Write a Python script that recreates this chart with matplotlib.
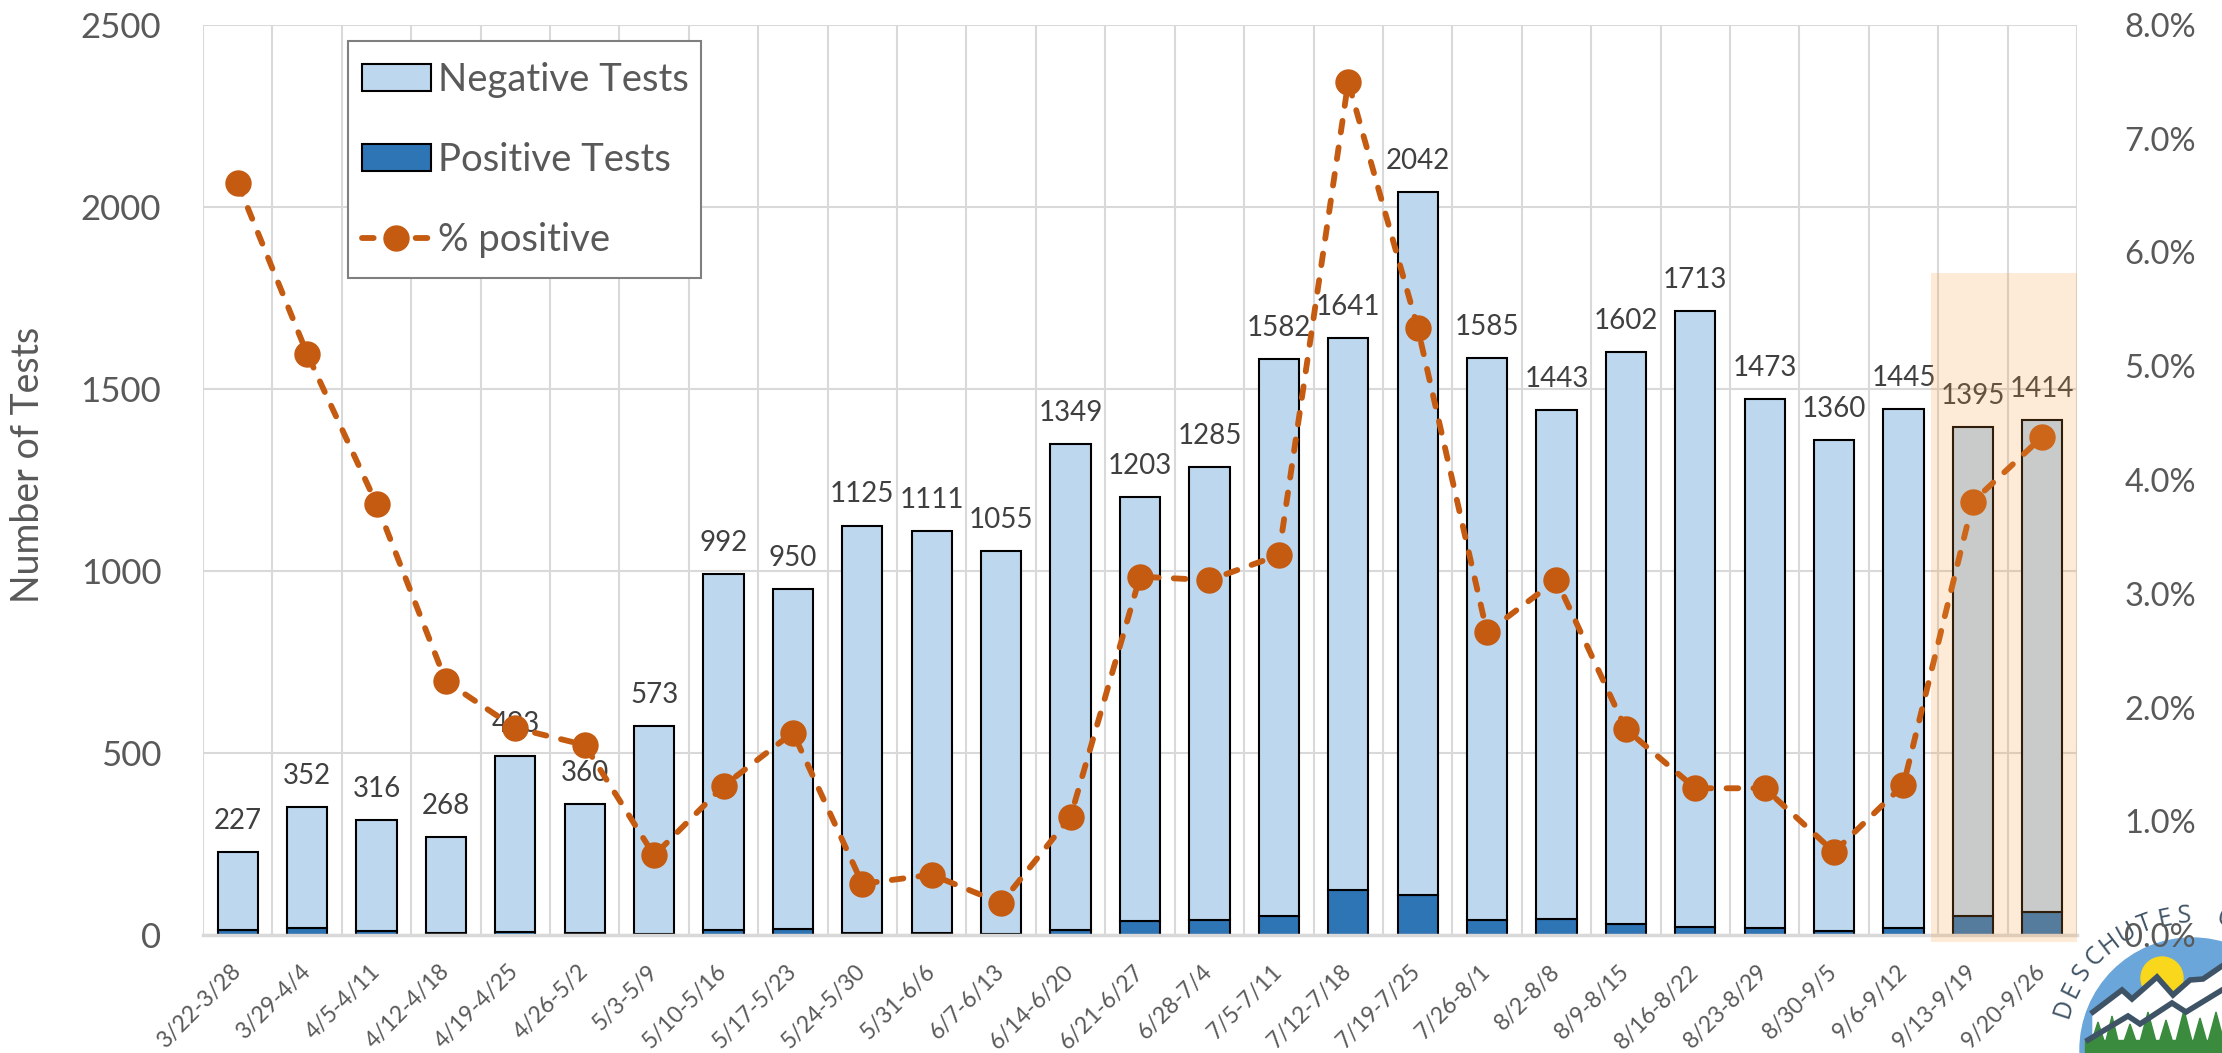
import matplotlib
matplotlib.use('Agg')
import matplotlib.pyplot as plt
import numpy as np
from matplotlib.patches import Rectangle, Patch, Circle, Polygon
from matplotlib.lines import Line2D
from matplotlib.ticker import FuncFormatter

# ---------------- data ----------------
weeks = ['3/22-3/28', '3/29-4/4', '4/5-4/11', '4/12-4/18', '4/19-4/25', '4/26-5/2',
         '5/3-5/9', '5/10-5/16', '5/17-5/23', '5/24-5/30', '5/31-6/6', '6/7-6/13',
         '6/14-6/20', '6/21-6/27', '6/28-7/4', '7/5-7/11', '7/12-7/18', '7/19-7/25',
         '7/26-8/1', '8/2-8/8', '8/9-8/15', '8/16-8/22', '8/23-8/29', '8/30-9/5',
         '9/6-9/12', '9/13-9/19', '9/20-9/26']
total_tests = [227, 352, 316, 268, 493, 360, 573, 992, 950, 1125, 1111, 1055, 1349,
               1203, 1285, 1582, 1641, 2042, 1585, 1443, 1602, 1713, 1473, 1360,
               1445, 1395, 1414]
positive_tests = [15, 18, 12, 6, 9, 6, 4, 13, 17, 5, 6, 3, 14, 38, 40, 53, 123, 109,
                  42, 45, 29, 22, 19, 10, 19, 53, 62]
pct_positive = [6.61, 5.11, 3.79, 2.23, 1.82, 1.67, 0.70, 1.31, 1.78, 0.45, 0.53,
                0.28, 1.04, 3.15, 3.12, 3.34, 7.50, 5.34, 2.66, 3.12, 1.81, 1.29,
                1.29, 0.73, 1.32, 3.81, 4.38]
negative_tests = [t - p for t, p in zip(total_tests, positive_tests)]
left_ticks = [0, 500, 1000, 1500, 2000, 2500]
right_ticks = [0, 1, 2, 3, 4, 5, 6, 7, 8]
highlight_weeks = [25, 26]

FONT = ['Lato', 'DejaVu Sans']
plt.rcParams['font.family'] = FONT
TXT = '#595959'
NEG = '#BDD7EE'
POS = '#2E75B6'
ORANGE = '#C55A11'
GRID = '#D9D9D9'
LW = 4.2
DASH = (0, (2.0, 2.6))

FW, FH = 2222, 1053
fig = plt.figure(figsize=(FW / 100, FH / 100), dpi=100)
ax = fig.add_axes([203/FW, 1-935/FH, (2077-203)/FW, (935-25)/FH])
x = np.arange(len(weeks))
W = 0.58
ax.bar(x, positive_tests, width=W, color=POS, edgecolor='black', linewidth=1.5, zorder=2)
ax.bar(x, negative_tests, width=W, bottom=positive_tests, color=NEG, edgecolor='black',
       linewidth=1.5, zorder=2)
ax.set_xlim(-0.5, len(weeks) - 0.5)
ax.set_ylim(0, 2500)
ax.set_yticks(left_ticks)
ax.set_xticks(x)
ax.set_xticklabels(weeks, rotation=45, ha='right', va='center', rotation_mode='anchor',
                   fontsize=16.5, color=TXT)
ax.set_xticks(np.arange(-0.5, len(weeks), 1), minor=True)
ax.grid(which='minor', axis='x', color=GRID, linewidth=1.5)
ax.grid(which='major', axis='y', color=GRID, linewidth=1.5)
ax.set_axisbelow(True)
for s in ['top', 'left', 'right']:
    ax.spines[s].set_visible(False)
ax.spines['bottom'].set_color(GRID)
ax.spines['bottom'].set_linewidth(2.5)
ax.tick_params(axis='both', which='both', length=0)
ax.tick_params(axis='x', pad=24)
ax.tick_params(axis='y', pad=30, labelsize=25, labelcolor=TXT)

for i, t in enumerate(total_tests):
    ax.annotate(str(t), (i, t), xytext=(0, 13), textcoords='offset points',
                ha='center', va='bottom', fontsize=20, color='#404040')

fig.text(28/FW, 1-465/FH, 'Number of Tests', rotation=90, ha='center', va='center',
         fontsize=27, color=TXT)

ax2 = ax.twinx()
ax2.plot(x, np.array(pct_positive) / 100, color=ORANGE, linewidth=LW,
         linestyle=DASH, dash_capstyle='round', marker='o', markersize=18,
         zorder=5)
ax2.set_ylim(0, 0.08)
ax2.set_yticks([v / 100 for v in right_ticks])
ax2.yaxis.set_major_formatter(FuncFormatter(lambda v, p: f'{v*100:.1f}%'))
for s in ax2.spines.values():
    s.set_visible(False)
ax2.tick_params(axis='y', length=0, pad=34, labelsize=23.5, labelcolor=TXT)

# legend: frame drawn separately so the padding matches the reference
ax2.add_patch(Rectangle((348/FW, 1-278/FH), (701-348)/FW, (278-41)/FH,
                        transform=fig.transFigure, facecolor='white',
                        edgecolor='#7F7F7F', linewidth=1.5, zorder=19))
handles = [Patch(facecolor=NEG, edgecolor='black', linewidth=1.5),
           Patch(facecolor=POS, edgecolor='black', linewidth=1.5),
           Line2D([], [], color=ORANGE, linewidth=LW, linestyle=DASH,
                  dash_capstyle='round', marker='o', markersize=18)]
leg = ax2.legend(handles, ['Negative Tests', 'Positive Tests', '% positive'],
                 loc='center left', bbox_to_anchor=(362/FW, 1-160/FH),
                 bbox_transform=fig.transFigure, fontsize=27.5,
                 frameon=False, labelspacing=1.15, handlelength=1.8, handleheight=0.7,
                 handletextpad=0.2, borderpad=0, borderaxespad=0)
for t in leg.get_texts():
    t.set_color(TXT)
leg.set_zorder(20)

# highlight of the latest two weeks
hx0 = highlight_weeks[0] - 0.6
ax2.add_patch(Rectangle((hx0, -19), highlight_weeks[-1] + 0.5 - hx0, 1838,
                        transform=ax.transData, facecolor='#F59B3C', alpha=0.2,
                        edgecolor='none', zorder=30, clip_on=False))

# ---------------- logo (partial, bottom right) ----------------
lg = fig.add_axes([2030/FW, 0, 192/FW, 183/FH], zorder=-1)
lg.set_xlim(2030, 2222)
lg.set_ylim(1053, 870)
lg.axis('off')
cx, cy = 2192, 1050
lg.add_patch(Circle((cx, cy), 112, color='#6BA6DA'))
lg.add_patch(Circle((2162, 978), 21, color='#F9D71C'))
zig = [(2093, 1012), (2122, 990), (2132, 999), (2157, 977), (2173, 995), (2190, 980),
       (2203, 979), (2222, 966)]
lg.add_patch(Polygon(zig + [(2222, 1060), (2093, 1060)], closed=True, color='white'))
zx, zy = zip(*zig)
lg.plot(zx, zy, color='#3F5366', linewidth=4, solid_joinstyle='miter')
zig2 = [(2088, 1040), (2128, 1016), (2140, 1024), (2172, 1003), (2186, 1012),
        (2222, 990)]
zx2, zy2 = zip(*zig2)
lg.plot(zx2, zy2, color='#3F5366', linewidth=4, solid_joinstyle='miter')
for tx, top, hw in [(2098, 1022, 10), (2112, 1016, 9), (2130, 1024, 10), (2148, 1012, 11),
                    (2166, 1020, 10), (2184, 1010, 11), (2200, 1018, 10), (2216, 1012, 11)]:
    lg.add_patch(Polygon([(tx - hw, 1053), (tx + hw, 1053), (tx, top)], closed=True,
                         color='#3A8B3E'))
lg.add_patch(Rectangle((2085, 1040), 140, 20, color='#3A8B3E'))
letters = 'DESCHUTES C'
angs = np.linspace(162, 76, len(letters))
for ch, a in zip(letters, angs):
    r = 134
    px = cx + r * np.cos(np.radians(a))
    py = cy - r * np.sin(np.radians(a))
    lg.text(px, py, ch, rotation=a - 90, ha='center', va='center', fontsize=18,
            color='#3F5366', family=['Open Sans', 'DejaVu Sans'])

fig.savefig('out.png', dpi=100)
